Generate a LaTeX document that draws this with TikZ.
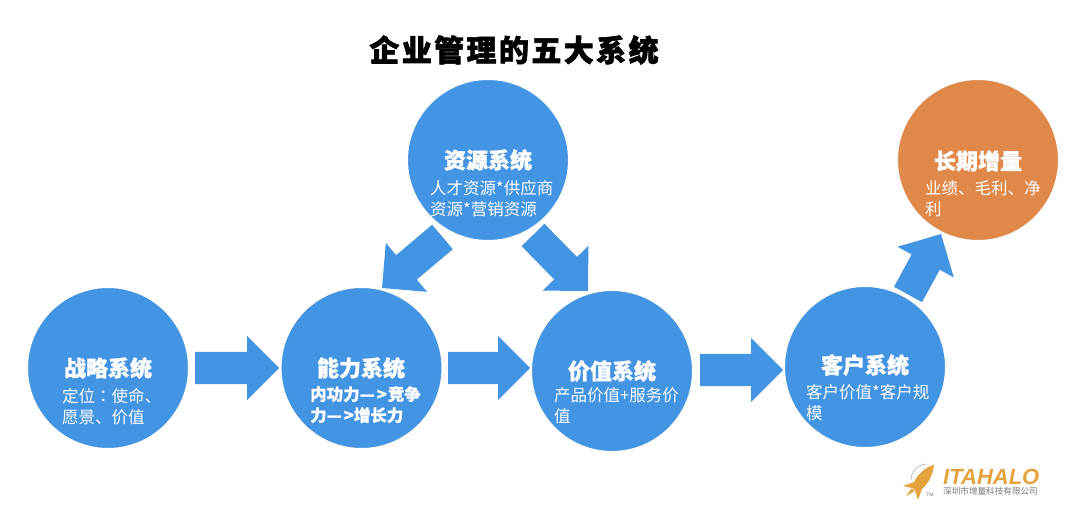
\documentclass[tikz,border=0pt]{standalone}
\usepackage{fontspec}
\setmainfont{Noto Sans CJK SC}
\newfontfamily\colonfont{Noto Sans CJK TC}
\newfontfamily\latinbold[BoldFont=Liberation Sans Bold,BoldItalicFont=Liberation Sans Bold Italic]{Liberation Sans}
\usetikzlibrary{calc,backgrounds}
\definecolor{sysblue}{RGB}{67,148,226}
\definecolor{sysorange}{RGB}{224,135,74}
\definecolor{logoorange}{RGB}{229,163,62}
\definecolor{logogray}{RGB}{120,120,120}
\tikzset{
  sys/.style={circle,draw=white,line width=1pt,fill=sysblue,minimum size=161pt,inner sep=0pt},
  sysalt/.style={sys,fill=sysorange},
  systitle/.style={text=white,font=\fontsize{22}{26}\selectfont\bfseries\addfontfeature{FakeBold=1.2},inner sep=0pt},
  sysbody/.style={text=white,font=\fontsize{16.5}{21}\selectfont,inner sep=0pt,anchor=north west,align=left},
  sysbodybold/.style={sysbody,font=\fontsize{16.5}{21}\selectfont\bfseries\addfontfeature{FakeBold=.8}},
  blockarrow/.style={fill=sysblue}
}
% #1 start, #2 tip: body half width 16, head half width 32, head length 32
\newcommand{\blockarrow}[2]{%
  \coordinate (as) at #1;
  \coordinate (at) at #2;
  \coordinate (an) at ($(at)!32pt!(as)$);
  \fill[blockarrow] ($(as)!16pt!90:(at)$) -- ($(an)!16pt!-90:(as)$) -- ($(an)!32pt!-90:(as)$) -- (at)
    -- ($(an)!32pt!90:(as)$) -- ($(an)!16pt!90:(as)$) -- ($(as)!16pt!-90:(at)$) -- cycle;
}
\begin{document}
\begin{tikzpicture}[x=1pt,y=-1pt]
\useasboundingbox (0,0) rectangle (1080,513);
% title
\node (title) at (514,50) [inner sep=0pt,font=\fontsize{30}{34}\selectfont\bfseries\addfontfeature{LetterSpace=8,FakeBold=2}] {企业管理的五大系统};
% circles
\node[sys] (zl) at (108,368) {};
\node[sys] (nl) at (361.5,368) {};
\node[sys] (jz) at (612,371) {};
\node[sys] (kh) at (865,367) {};
\node[sys] (zy) at (488,160) {};
\node[sysalt] (cq) at (978,160) {};
% arrows (behind circles)
\begin{pgfonlayer}{background}
\fill[white] (0,0) rectangle (1080,513);
\blockarrow{($(zl)+(87,0)$)}{($(nl)+(-82.5,0)$)}
\blockarrow{($(nl)+(86.5,0)$)}{($(jz)+(-82,-3)$)}
\blockarrow{($(jz)+(88,-1)$)}{($(kh)+(-82,3)$)}
\blockarrow{($(zy)+(-45.5,77)$)}{($(nl)+(20.5,-80)$)}
\blockarrow{($(zy)+(45,75)$)}{($(jz)+(-24,-80)$)}
\blockarrow{($(kh)+(43,-72.5)$)}{($(cq)+(-37,74)$)}
\end{pgfonlayer}
% circle titles
\node[systitle] (zlt) at (108,368) {战略系统};
\node[systitle] (nlt) at (361,368) {能力系统};
\node[systitle] (jzt) at (612,371) {价值系统};
\node[systitle] (kht) at (865,365) {客户系统};
\node[systitle] (zyt) at (488,160) {资源系统};
\node[systitle] (cqt) at (978,161) {长期增量};
% circle bodies
\node[sysbody] (zlb) at (62,388) {定位{\colonfont ：}使命、\\愿景、价值};
\node[sysbodybold] (nlb) at (310,386) {内功力—\kern2pt>\kern1pt竞争\\力—\kern2pt>增长力};
\node[sysbody] (jzb) at (554,387) {产品价值+服务价\\值};
\node[sysbody] (khb) at (806,384) {客户价值*客户规\\模};
\node[sysbody] (zyb) at (430,180) {人才资源*供应商\\资源*营销资源};
\node[sysbody] (cqb) at (925,180) {业绩、毛利、净\\利};
% logo
\draw[logogray!50,line width=.8pt] (911,480) .. controls (911,472) and (917,465) .. (926,464);
\fill[logoorange] (934,465) .. controls (928,466) and (919,472) .. (914,482) -- (903,486) -- (912,488) -- (906,496) -- (915,491) -- (918,500) -- (922,489) .. controls (929,483) and (933,474) .. (934,465) -- cycle;
\draw[white,line width=.6pt] (912,488) -- (915,491);
\node[inner sep=0pt,text=logogray,font=\fontsize{5}{6}\selectfont\latinbold] (tm) at (930,495) {TM};
\node[inner sep=0pt,anchor=base west,text=logoorange,font=\fontsize{22}{24}\selectfont\latinbold\bfseries\itshape] (brand) at (943,484) {ITAHALO};
\node[inner sep=0pt,anchor=west,text=logogray,font=\fontsize{8.6}{10}\selectfont] (co) at (943,491.5) {深圳市增量科技有限公司};
\end{tikzpicture}
\end{document}
